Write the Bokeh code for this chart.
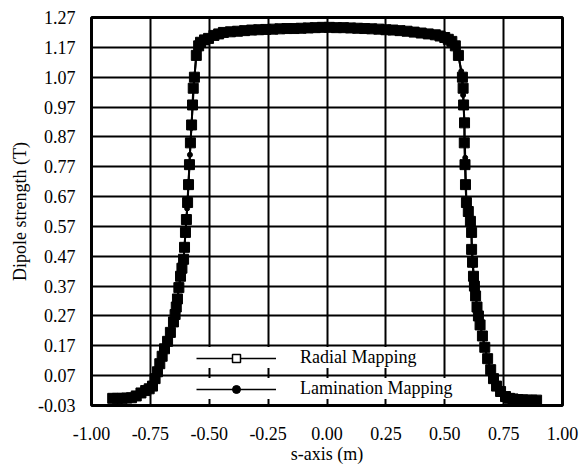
from bokeh.plotting import figure
from bokeh.models import (ColumnDataSource, FixedTicker, NumeralTickFormatter,
                          Legend, LegendItem, Range1d)
from bokeh.embed import file_html
from bokeh.resources import INLINE

# ---- data ----
radial_s = [-0.91, -0.89, -0.87, -0.85, -0.83, -0.81, -0.79, -0.77, -0.755, -0.741,
            -0.73, -0.72, -0.71, -0.70, -0.69, -0.677, -0.665, -0.652, -0.645, -0.64,
            -0.635, -0.629, -0.622, -0.616, -0.609, -0.605, -0.601, -0.597, -0.592, -0.588,
            -0.584, -0.580, -0.575, -0.571, -0.568, -0.563, -0.555, -0.545, -0.537, -0.52,
            -0.503, -0.48, -0.46, -0.44, -0.41, -0.38, -0.35, -0.32, -0.29, -0.26,
            -0.23, -0.20, -0.17, -0.14, -0.11, -0.08, -0.05, -0.02, 0.01, 0.04,
            0.07, 0.10, 0.13, 0.16, 0.19, 0.22, 0.25, 0.28, 0.31, 0.34,
            0.37, 0.40, 0.43, 0.46, 0.48, 0.50, 0.515, 0.53, 0.545, 0.558,
            0.575, 0.578, 0.580, 0.584, 0.583, 0.586, 0.588, 0.592, 0.600, 0.609,
            0.614, 0.614, 0.618, 0.622, 0.626, 0.631, 0.637, 0.643, 0.65, 0.66,
            0.67, 0.682, 0.695, 0.707, 0.72, 0.737, 0.758, 0.775, 0.79, 0.81,
            0.83, 0.85, 0.87, 0.89]
radial_b = [-0.006, -0.006, -0.006, -0.005, -0.004, 0.002, 0.012, 0.020, 0.026, 0.035,
            0.060, 0.083, 0.110, 0.135, 0.160, 0.185, 0.215, 0.250, 0.275, 0.300,
            0.327, 0.365, 0.403, 0.430, 0.460, 0.500, 0.550, 0.593, 0.650, 0.710,
            0.777, 0.850, 0.910, 0.977, 1.033, 1.070, 1.143, 1.175, 1.187, 1.195,
            1.200, 1.210, 1.215, 1.220, 1.222, 1.224, 1.226, 1.228, 1.229, 1.230,
            1.231, 1.232, 1.233, 1.233, 1.234, 1.235, 1.236, 1.237, 1.237, 1.236,
            1.236, 1.235, 1.234, 1.233, 1.232, 1.231, 1.229, 1.228, 1.226, 1.224,
            1.221, 1.218, 1.215, 1.212, 1.208, 1.203, 1.197, 1.190, 1.175, 1.143,
            1.070, 1.033, 0.977, 0.917, 0.850, 0.777, 0.710, 0.650, 0.620, 0.587,
            0.550, 0.493, 0.450, 0.403, 0.370, 0.337, 0.300, 0.270, 0.240, 0.203,
            0.165, 0.127, 0.090, 0.060, 0.035, 0.017, 0.000, -0.006, -0.008, -0.010,
            -0.011, -0.012, -0.012, -0.012]

lamination_s = [-0.91, -0.87, -0.83, -0.79, -0.76, -0.74, -0.72, -0.70, -0.68, -0.66,
                -0.645, -0.635, -0.622, -0.609, -0.601, -0.594, -0.588, -0.582, -0.576, -0.570,
                -0.563, -0.555, -0.54, -0.52, -0.50, -0.45, -0.40, -0.30, -0.20, -0.10,
                0.00, 0.10, 0.20, 0.30, 0.40, 0.45, 0.50, 0.525, 0.545, 0.558,
                0.570, 0.578, 0.583, 0.587, 0.592, 0.602, 0.612, 0.620, 0.630, 0.642,
                0.658, 0.680, 0.705, 0.735, 0.758, 0.79, 0.83, 0.87, 0.89]
lamination_b = [-0.006, -0.006, -0.004, 0.012, 0.024, 0.035, 0.083, 0.135, 0.190, 0.225,
                0.275, 0.327, 0.403, 0.460, 0.550, 0.630, 0.720, 0.810, 0.900, 0.980,
                1.070, 1.143, 1.180, 1.195, 1.201, 1.218, 1.222, 1.228, 1.232, 1.235,
                1.237, 1.235, 1.232, 1.227, 1.218, 1.214, 1.203, 1.193, 1.175, 1.143,
                1.090, 1.010, 0.920, 0.800, 0.650, 0.610, 0.560, 0.440, 0.350, 0.275,
                0.210, 0.130, 0.062, 0.018, 0.000, -0.008, -0.011, -0.012, -0.012]

x_ticks = [-1.00, -0.75, -0.50, -0.25, 0.00, 0.25, 0.50, 0.75, 1.00]
y_ticks = [-0.03, 0.07, 0.17, 0.27, 0.37, 0.47, 0.57, 0.67, 0.77, 0.87, 0.97, 1.07, 1.17, 1.27]

FONT = "Liberation Serif"

p = figure(width=582, height=466, output_backend="svg",
           toolbar_location=None,
           x_range=Range1d(-1.0, 1.0), y_range=Range1d(-0.03, 1.27),
           min_border_left=91, min_border_top=17, min_border_right=20,
           min_border_bottom=59)
p.background_fill_color = "white"
p.border_fill_color = "white"
p.outline_line_color = "black"
p.outline_line_width = 3

for ax in (p.xaxis[0], p.yaxis[0]):
    ax.axis_line_color = None
    ax.major_tick_line_color = None
    ax.minor_tick_line_color = None
    ax.major_label_text_font = FONT
    ax.major_label_text_font_size = "18px"
    ax.major_label_text_color = "black"
    ax.axis_label_text_font = FONT
    ax.axis_label_text_font_size = "18px"
    ax.axis_label_text_font_style = "normal"
    ax.axis_label_text_color = "black"

p.xaxis.ticker = FixedTicker(ticks=x_ticks)
p.yaxis.ticker = FixedTicker(ticks=y_ticks)
p.xaxis.formatter = NumeralTickFormatter(format="0.00")
p.yaxis.formatter = NumeralTickFormatter(format="0.00")
p.xaxis.axis_label = "s-axis (m)"
p.yaxis.axis_label = "Dipole strength (T)"
p.xaxis.major_label_standoff = 15
p.xaxis.axis_label_standoff = 1
p.yaxis.major_label_standoff = 10
p.yaxis.axis_label_standoff = 5

p.xgrid.ticker = FixedTicker(ticks=x_ticks)
p.ygrid.ticker = FixedTicker(ticks=y_ticks)
for g in (p.xgrid[0], p.ygrid[0]):
    g.grid_line_color = "black"
    g.grid_line_width = 2
    g.grid_line_alpha = 1.0

rad = ColumnDataSource(dict(s=radial_s, b=radial_b))
lam = ColumnDataSource(dict(s=lamination_s, b=lamination_b))

p.line("s", "b", source=rad, line_color="black", line_width=2)
p.scatter("s", "b", source=rad, marker="square", size=10,
          fill_color="black", line_color="black")
p.line("s", "b", source=lam, line_color="black", line_width=2)
p.scatter("s", "b", source=lam, marker="circle", size=5,
          fill_color="black", line_color="black")

# legend-only renderers (a single NaN row, so nothing is drawn in the plot)
nan = float("nan")
key1 = ColumnDataSource(dict(s=[nan], b=[nan]))
key2 = ColumnDataSource(dict(s=[nan], b=[nan]))
lg_l1 = p.line("s", "b", source=key1, line_color="black", line_width=1.5)
lg_m1 = p.scatter("s", "b", source=key1, marker="square", size=7,
                  fill_color="white", line_color="black", line_width=1.5)
lg_l2 = p.line("s", "b", source=key2, line_color="black", line_width=1.5)
lg_m2 = p.scatter("s", "b", source=key2, marker="circle", size=4,
                  fill_color="black", line_color="black")

def make_legend(label, rends, loc):
    lg = Legend(items=[LegendItem(label=label, renderers=rends)],
                location=loc, orientation="vertical",
                glyph_width=80, glyph_height=20, label_height=20,
                label_standoff=24, padding=2, margin=0, spacing=0,
                border_line_color=None, background_fill_color="white",
                background_fill_alpha=1.0,
                label_text_font=FONT, label_text_font_size="18px",
                label_text_color="black")
    p.add_layout(lg, "center")

make_legend("Radial Mapping", [lg_l1, lg_m1], (105, 37))
make_legend("Lamination Mapping", [lg_l2, lg_m2], (105, 6))

open("out.html", "w").write(file_html(p, INLINE))
